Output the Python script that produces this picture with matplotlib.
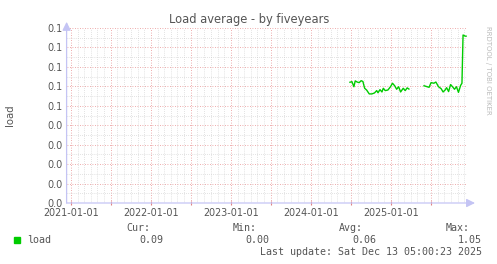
import numpy as np
import pandas as pd
import matplotlib
matplotlib.use("Agg")
import matplotlib.pyplot as plt
import matplotlib.dates as mdates

# load average samples (NaN = no data)
dates = ["2024-06-27", "2024-07-06", "2024-07-15", "2024-07-21", "2024-07-30",
         "2024-08-08", "2024-08-17", "2024-08-25", "2024-09-02", "2024-09-11",
         "2024-09-23", "2024-10-05", "2024-10-17", "2024-10-27", "2024-11-02",
         "2024-11-11", "2024-11-20", "2024-11-26", "2024-12-05", "2024-12-17",
         "2024-12-29", "2025-01-07", "2025-01-17", "2025-01-26", "2025-02-04",
         "2025-02-13", "2025-02-25", "2025-03-06", "2025-03-15", "2025-03-23",
         "2025-04-20",
         "2025-05-31", "2025-06-14", "2025-06-23", "2025-07-02", "2025-07-15",
         "2025-07-24", "2025-08-05", "2025-08-17", "2025-08-26", "2025-09-04",
         "2025-09-11", "2025-09-20", "2025-09-29", "2025-10-08", "2025-10-17",
         "2025-10-26", "2025-11-04", "2025-11-14", "2025-11-20", "2025-11-25",
         "2025-12-05", "2025-12-09"]
load = [0.0621, 0.0624, 0.0598, 0.0628, 0.0622,
        0.0619, 0.0629, 0.0625, 0.0590, 0.0581,
        0.0561, 0.0561, 0.0566, 0.0578, 0.0567,
        0.0583, 0.0571, 0.0590, 0.0578, 0.0581,
        0.0598, 0.0616, 0.0603, 0.0585, 0.0598,
        0.0571, 0.0590, 0.0578, 0.0592, 0.0586,
        np.nan,
        0.0603, 0.0598, 0.0595, 0.0619, 0.0616,
        0.0622, 0.0598, 0.0588, 0.0571, 0.0581,
        0.0593, 0.0573, 0.0609, 0.0598, 0.0585,
        0.0598, 0.0569, 0.0605, 0.0616, 0.0864,
        0.0858, 0.0858]

yticks = [0.00, 0.01, 0.02, 0.03, 0.04, 0.05, 0.06, 0.07, 0.08, 0.09]
ytick_labels = ["0.0", "0.0", "0.0", "0.0", "0.0", "0.1", "0.1", "0.1", "0.1", "0.1"]

start = pd.Timestamp("2020-12-14")
end = pd.Timestamp("2025-12-13")

W, H = 497, 264
fig = plt.figure(figsize=(W / 100, H / 100), dpi=100)
fig.patch.set_facecolor("white")
ax = fig.add_axes([67 / W, (H - 203) / H, 400 / W, 175 / H])
ax.set_facecolor("white")

t = pd.to_datetime(dates)
ax.plot(t, load, color="#00cc00", lw=1.0, zorder=5)

ax.set_xlim(start, end)
ax.set_ylim(0, 0.09)

# grid: red dotted majors, grey dotted minors
ax.set_yticks(yticks)
ax.set_yticklabels(ytick_labels)
ax.set_yticks(np.arange(0.005, 0.09, 0.01), minor=True)
ax.xaxis.set_major_locator(mdates.MonthLocator(bymonth=[1, 7]))
ax.xaxis.set_minor_locator(mdates.MonthLocator())

def xfmt(x, pos):
    d = mdates.num2date(x)
    return d.strftime("%Y-%m-%d") if d.month == 1 else ""
ax.xaxis.set_major_formatter(plt.FuncFormatter(xfmt))

ax.grid(which="major", color="#e89090", ls=(0, (1, 2)), lw=0.6)
ax.grid(which="minor", color="#c8c8c8", ls=(0, (1, 2)), lw=0.5)
ax.set_axisbelow(True)

for s in ax.spines.values():
    s.set_visible(False)
ax.tick_params(axis="both", which="both", length=0, labelsize=6.9, colors="#555555", pad=3)
ax.tick_params(axis="x", which="major", length=2.5, color="#e08080", direction="inout", pad=2)

# axis arrows
ac = "#c4c4f4"
ax.annotate("", xy=(-0.001, 1.035), xytext=(-0.001, 0), xycoords="axes fraction",
            arrowprops=dict(arrowstyle="-|>,head_length=0.5,head_width=0.25", color=ac, lw=0.9,
                            shrinkA=0, shrinkB=0), annotation_clip=False)
ax.annotate("", xy=(1.02, 0), xytext=(-0.001, 0), xycoords="axes fraction",
            arrowprops=dict(arrowstyle="-|>,head_length=0.5,head_width=0.25", color=ac, lw=0.9,
                            shrinkA=0, shrinkB=0), annotation_clip=False)

fig.text(249 / W, 1 - 20 / H, "Load average - by fiveyears", ha="center", va="center",
         fontsize=8.3, color="#555555")
fig.text(10 / W, 1 - 115 / H, "load", rotation=90, ha="center", va="center",
         fontsize=7.3, color="#555555")
fig.text(488 / W, 1 - 70 / H, "RRDTOOL / TOBI OETIKER", rotation=270, ha="center",
         va="center", fontsize=5, color="#bbbbbb")

# legend block
mono = dict(family="DejaVu Sans Mono", fontsize=7.2, color="#555555")
heads = ["Cur:", "Min:", "Avg:", "Max:"]
vals = ["0.09", "0.00", "0.06", "1.05"]
head_x = [150, 257, 363, 470]
val_x = [163, 269, 376, 482]
for hx, h in zip(head_x, heads):
    fig.text(hx / W, 1 - 228 / H, h, ha="right", va="center", **mono)
for vx, v in zip(val_x, vals):
    fig.text(vx / W, 1 - 240 / H, v, ha="right", va="center", **mono)
fig.patches.append(plt.Rectangle((14 / W, 1 - 243 / H), 6 / W, 6 / H,
                                 transform=fig.transFigure, color="#00cc00"))
fig.text(27 / W, 1 - 240 / H, "load", ha="left", va="center", **mono)
fig.text(482 / W, 1 - 252 / H, "Last update: Sat Dec 13 05:00:23 2025",
         ha="right", va="center", **mono)

fig.savefig("out.png", dpi=100, facecolor="white")
